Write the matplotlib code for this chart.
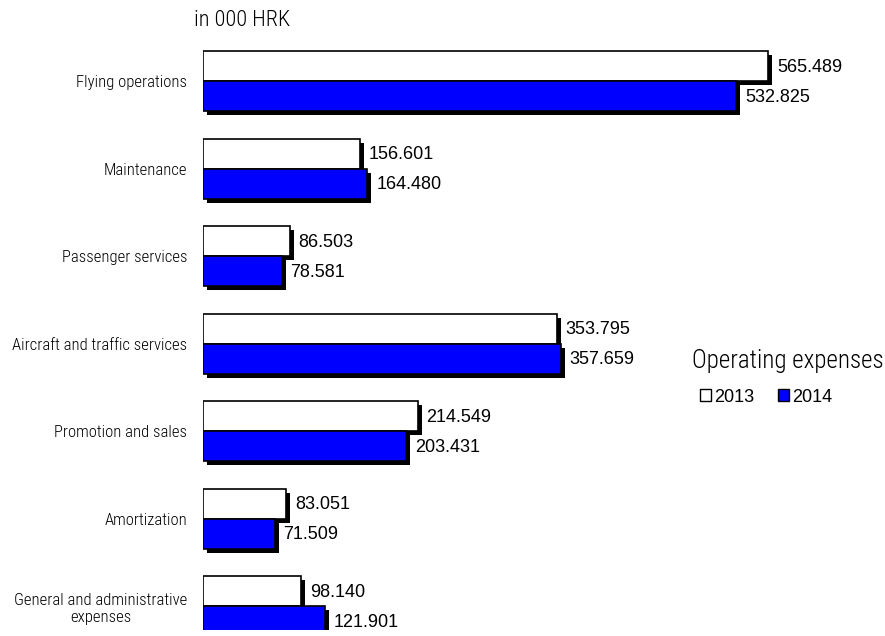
import matplotlib.pyplot as plt
import matplotlib.transforms as mtransforms
from matplotlib.patches import Patch
import numpy as np

categories = [
    "Flying operations",
    "Maintenance",
    "Passenger services",
    "Aircraft and traffic services",
    "Promotion and sales",
    "Amortization",
    "General and administrative\nexpenses",
]
values_2013 = [565.489, 156.601, 86.503, 353.795, 214.549, 83.051, 98.140]
values_2014 = [532.825, 164.480, 78.581, 357.659, 203.431, 71.509, 121.901]
years = ["2013", "2014"]
colors = ["white", "#0000ff"]

narrow = ["Roboto Condensed", "Liberation Sans", "DejaVu Sans"]
regular = ["Liberation Sans", "DejaVu Sans"]

fig = plt.figure(figsize=(8.85, 6.36), dpi=100)
W, H = 885, 636
# axes in pixel terms: x from 203 (1 px per unit), y group centers 81 + 87.5*i
ax = fig.add_axes([203 / W, 1 - 630 / H, (W - 203) / W, 590 / H])
ax.set_xlim(0, W - 203)
ax.set_ylim((630 - 81) / 87.5, (40 - 81) / 87.5)

y = np.arange(len(categories))
h = 30 / 87.5
shadow = ax.transData + mtransforms.ScaledTranslation(0.04, -0.04, fig.dpi_scale_trans)

series = [(values_2013, -h / 2, colors[0]), (values_2014, h / 2, colors[1])]
for vals, off, col in series:
    ax.barh(y + off, vals, height=h, color="black", transform=shadow, zorder=1)
for vals, off, col in series:
    ax.barh(y + off, vals, height=h, color=col, edgecolor="black", linewidth=1.2, zorder=2)
    for yi, v in zip(y + off, vals):
        ax.annotate(f"{v:.3f}", (v, yi), xytext=(6.5, -1), textcoords="offset points",
                    va="center", ha="left", fontsize=13, family=regular)

ax.set_yticks(y)
ax.set_yticklabels(categories, family=narrow, fontsize=12, fontweight="light", color="black")
for lab in ax.get_yticklabels():
    lab.set_multialignment("center")
ax.tick_params(axis="y", length=0, pad=11.5)
ax.set_xticks([])
for s in ax.spines.values():
    s.set_visible(False)

fig.text(194 / W, 1 - 20 / H, "in 000 HRK", family=narrow, fontsize=16, fontweight="light",
         va="center", ha="left", color="black")
fig.text(692 / W, 1 - 368 / H, "Operating expenses", family=narrow, fontsize=18, fontweight="light",
         va="baseline", ha="left", color="black")

handles = [Patch(facecolor=c, edgecolor="black", linewidth=1.0) for c in colors]
fig.legend(handles, years, loc="center left", bbox_to_anchor=(700 / W, 1 - 397 / H), ncol=2,
           frameon=False, handlelength=0.6, handleheight=0.6, handletextpad=0.2,
           columnspacing=1.3, borderpad=0, borderaxespad=0, prop={"family": regular, "size": 13})

fig.savefig("out.png", dpi=100)
